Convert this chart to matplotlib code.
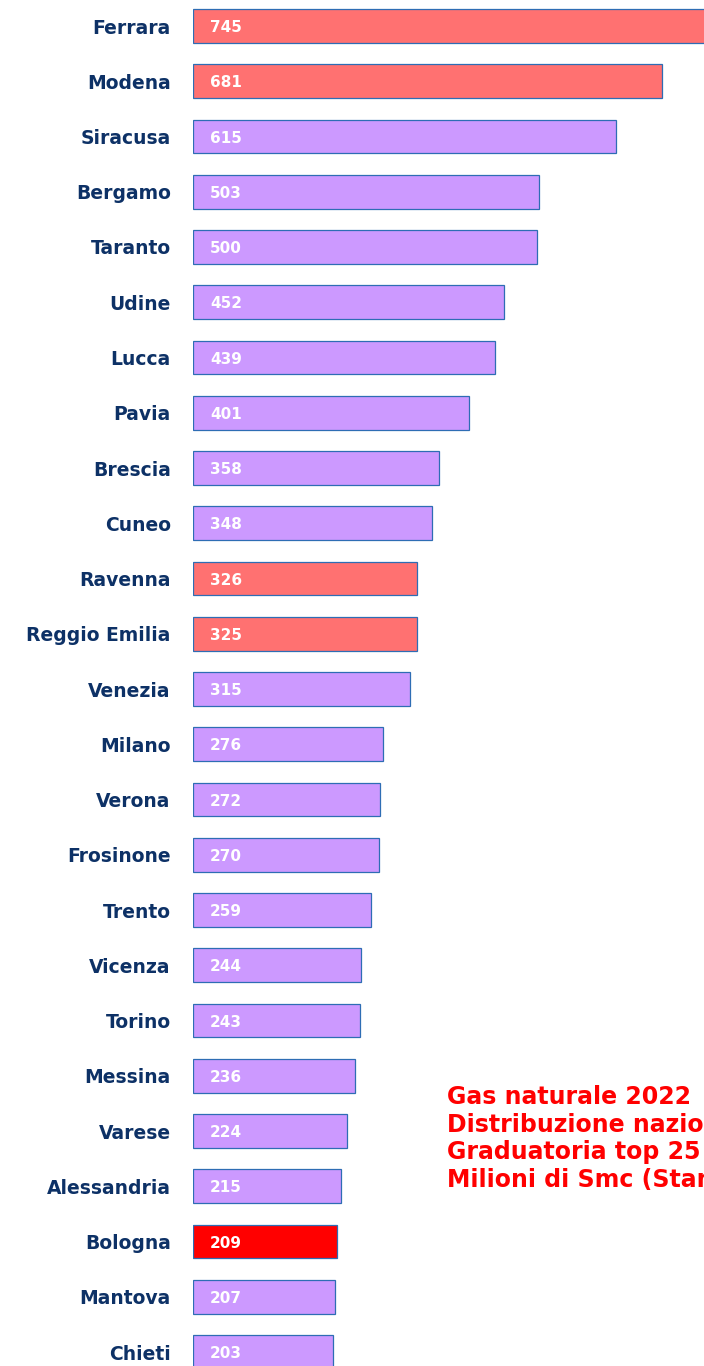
import matplotlib
matplotlib.use('Agg')
import matplotlib.pyplot as plt

# dati: milioni di Smc
citta = ['Ferrara', 'Modena', 'Siracusa', 'Bergamo', 'Taranto', 'Udine', 'Lucca',
         'Pavia', 'Brescia', 'Cuneo', 'Ravenna', 'Reggio Emilia', 'Venezia',
         'Milano', 'Verona', 'Frosinone', 'Trento', 'Vicenza', 'Torino',
         'Messina', 'Varese', 'Alessandria', 'Bologna', 'Mantova', 'Chieti']
valori = [745, 681, 615, 503, 500, 452, 439, 401, 358, 348, 326, 325, 315,
          276, 272, 270, 259, 244, 243, 236, 224, 215, 209, 207, 203]
emilia = ['Ferrara', 'Modena', 'Ravenna', 'Reggio Emilia']
evidenza = ['Bologna']

titolo = ['Gas naturale 2022',
          'Distribuzione nazionale',
          'Graduatoria top 25',
          'Milioni di Smc (Standard metri cubi)']

COL_BASE = '#CC99FF'
COL_EMILIA = '#FF7171'
COL_BOLOGNA = '#FF0000'
COL_LABEL = '#0D3166'

W, H = 704, 1366
fig = plt.figure(figsize=(W / 100, H / 100), dpi=100)

x0 = 193
ax = fig.add_axes([x0 / W, 0, (W - x0) / W, 1])
px_per_unit = 0.688
step = 55.25
top = 26
ax.set_xlim(0, (W - x0) / px_per_unit)
ax.set_ylim((H - top) / step, -top / step)

colori = []
for c in citta:
    if c in evidenza:
        colori.append(COL_BOLOGNA)
    elif c in emilia:
        colori.append(COL_EMILIA)
    else:
        colori.append(COL_BASE)

pos = list(range(len(citta)))
bars = ax.barh(pos, valori, height=0.615, color=colori,
               edgecolor='#2E6DB4', linewidth=0.9)

for i, v in enumerate(valori):
    ax.text(25, i + 0.03, str(v), color='white', fontweight='bold',
            fontsize=11, va='center', ha='left')

ax.set_yticks(pos)
ax.set_yticklabels(citta, fontsize=13.5, fontweight='bold', color=COL_LABEL)
ax.tick_params(axis='y', length=0, pad=16)
ax.set_xticks([])
for s in ax.spines.values():
    s.set_visible(False)

# titolo a destra (tagliato dal bordo come nell'originale)
for k, riga in enumerate(titolo):
    fig.text(447 / W, 1 - (1097 + 27.7 * k) / H, riga, color='#FF0000',
             fontsize=17, fontweight='bold', va='center', ha='left')

fig.savefig('out.png', dpi=100)
